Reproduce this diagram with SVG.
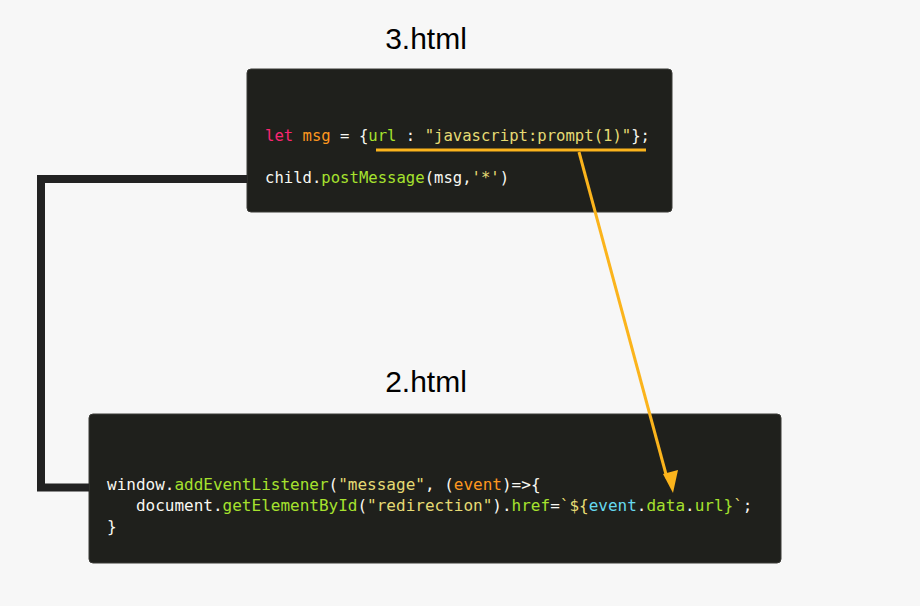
<svg xmlns="http://www.w3.org/2000/svg" width="920" height="606" viewBox="0 0 920 606">
<defs>
<style>
.title{font-family:"Liberation Sans",Arial,sans-serif;font-size:30px;fill:#000;text-anchor:middle}
.code{font-family:"DejaVu Sans Mono",monospace;fill:#f8f8f2;white-space:pre}
.box{fill:#1f201c;stroke:#3a3a36;stroke-width:1}
.kw{fill:#f92672}.or{fill:#fd971f}.gr{fill:#a6e22e}.st{fill:#e6db74}.cy{fill:#66d9ef}
.hl{stroke:#fbb41c;stroke-width:3;fill:none}
</style>
</defs>
<rect width="920" height="606" fill="#f7f7f7"/>
<g id="node-3html">
<text class="title" x="426" y="49">3.html</text>
<rect class="box" x="247" y="69" width="425" height="143" rx="4"/>
<text class="code" x="265" y="141" font-size="15.6"><tspan class="kw">let</tspan> <tspan class="or">msg</tspan> = {<tspan class="gr">url</tspan> : <tspan class="st">"javascript:prompt(1)"</tspan>};</text>
<text class="code" x="265" y="183" font-size="15.6">child.<tspan class="gr">postMessage</tspan>(msg,<tspan class="st">'*'</tspan>)</text>
</g>
<g id="node-2html">
<text class="title" x="426" y="392">2.html</text>
<rect class="box" x="89" y="414" width="692" height="149" rx="4"/>
<text class="code" x="107" y="490" font-size="16">window.<tspan class="gr">addEventListener</tspan>(<tspan class="st">"message"</tspan>, (<tspan class="or">event</tspan>)=&gt;{</text>
<text class="code" x="107" y="511" font-size="16">   document.<tspan class="gr">getElementById</tspan>(<tspan class="st">"redirection"</tspan>).<tspan class="gr">href</tspan>=<tspan class="st">`${</tspan><tspan class="cy">event</tspan>.<tspan class="gr">data</tspan>.<tspan class="gr">url</tspan><tspan class="gr">}</tspan><tspan class="st">`</tspan>;</text>
<text class="code" x="107" y="532" font-size="16">}</text>
</g>
<g id="connectors">
<polyline points="247,179 41,179 41,487.5 89,487.5" fill="none" stroke="#222222" stroke-width="8"/>
<line class="hl" x1="376" y1="150" x2="646" y2="150"/>
<path class="hl" d="M579,152 L667,478"/>
<path d="M663,474 L678,470 L673,493 z" fill="#fbb41c"/>
</g>
</svg>
